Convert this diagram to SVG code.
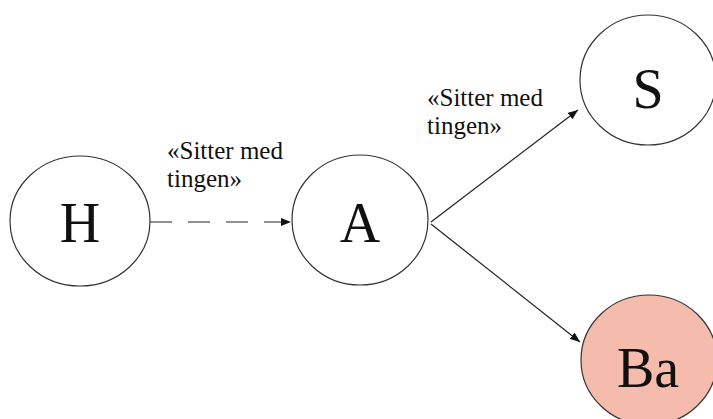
<svg xmlns="http://www.w3.org/2000/svg" width="713" height="419" viewBox="0 0 713 419">
<defs>
<style>
.node{fill:#ffffff;stroke:#333333;stroke-width:1.2}
.node.pink{fill:#F5BCAD}
.lbl{font-family:"Liberation Serif","Times New Roman",serif;fill:#111111;text-anchor:middle;font-size:56px}
.etxt{font-family:"Liberation Serif","Times New Roman",serif;fill:#111111;font-size:25px}
.edge{stroke:#222222;stroke-width:1.2;fill:none}
</style>
<marker id="arr" viewBox="0 0 10 8" refX="10" refY="4" markerWidth="10" markerHeight="8" markerUnits="userSpaceOnUse" orient="auto">
<path d="M0,0 L10,4 L0,8 Z" fill="#111111"/>
</marker>
</defs>
<rect width="713" height="419" fill="#ffffff"/>
<g id="connectors">
<line class="edge" x1="150" y1="222" x2="291" y2="222" stroke-dasharray="22,16" marker-end="url(#arr)"/>
<line class="edge" x1="431" y1="222" x2="578" y2="110" marker-end="url(#arr)"/>
<line class="edge" x1="431" y1="224" x2="580" y2="342" marker-end="url(#arr)"/>
<text class="etxt" x="167" y="159">«Sitter med</text>
<text class="etxt" x="167" y="187">tingen»</text>
<text class="etxt" x="427" y="106">«Sitter med</text>
<text class="etxt" x="427" y="134">tingen»</text>
</g>
<g id="node-H">
<ellipse class="node" cx="80" cy="221" rx="70" ry="65"/>
<text class="lbl" x="80" y="242">H</text>
</g>
<g id="node-A">
<ellipse class="node" cx="360" cy="220" rx="68" ry="65"/>
<text class="lbl" x="360" y="242">A</text>
</g>
<g id="node-S">
<ellipse class="node" cx="648" cy="80" rx="68" ry="65"/>
<text class="lbl" x="648" y="108">S</text>
</g>
<g id="node-Ba">
<ellipse class="node pink" cx="649" cy="360" rx="68" ry="65"/>
<text class="lbl" x="648" y="387">Ba</text>
</g>
</svg>
